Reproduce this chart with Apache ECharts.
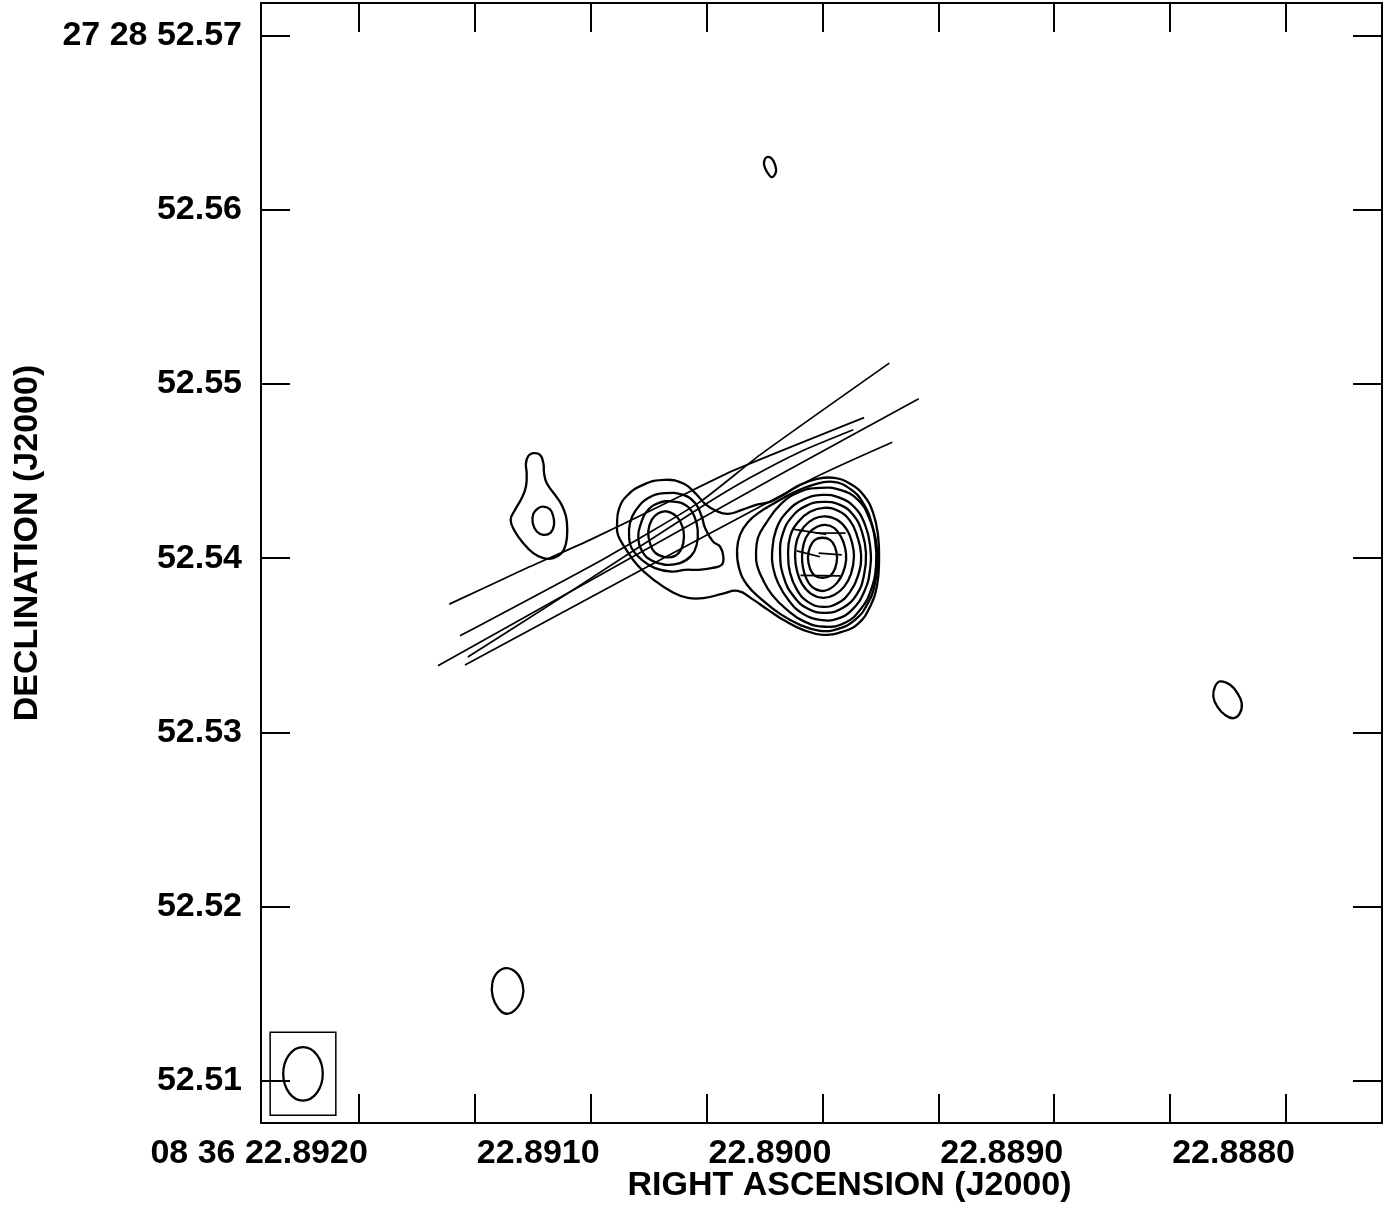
<!DOCTYPE html>
<html>
<head>
<meta charset="utf-8">
<title>Contour map</title>
<script src="https://cdn.jsdelivr.net/npm/echarts@6/dist/echarts.min.js"></script>
<style>
html, body { margin: 0; padding: 0; background: #fff; }
#main { width: 1389px; height: 1207px; }
</style>
</head>
<body>
<div id="main"></div>
<script>
// map centre (peak of the bright component): RA seconds, Dec arcsec
var RA0 = 22.8900;
var DEC0 = 52.5400;
var DEC_DEG = 27 + 28 / 60 + 52.54 / 3600;

// axes
var RA_RANGE = [22.887586, 22.892422];
var DEC_RANGE = [52.507566, 52.571877];
var RA_TICKS = [22.8920, 22.8915, 22.8910, 22.8905, 22.8900, 22.8895, 22.8890, 22.8885, 22.8880];
var RA_LABEL_VALUES = [22.8920, 22.8910, 22.8900, 22.8890, 22.8880];
var RA_LABELS = ['08 36 22.8920', '22.8910', '22.8900', '22.8890', '22.8880'];
var DEC_TICKS = [52.57, 52.56, 52.55, 52.54, 52.53, 52.52, 52.51];
var DEC_LABELS = ['27 28 52.57', '52.56', '52.55', '52.54', '52.53', '52.52', '52.51'];

// contours, offsets from the centre in mas [east, north]
var OUTER_C1 = [[11.79,1.91],[11.68,2.83],[11.22,3.58],[10.30,4.21],[9.04,4.50],[7.95,4.27],[7.26,3.69],[6.74,3.12],[6.11,2.72],[5.42,2.54],[4.62,2.77],[3.81,3.06],[3.01,3.23],[2.15,3.69],[1.29,4.21],[0.31,4.55],[-0.67,4.61],[-1.59,4.27],[-2.39,3.58],[-2.91,2.60],[-3.19,1.34],[-3.25,-0.10],[-3.14,-1.53],[-2.73,-2.80],[-2.04,-3.77],[-1.13,-4.23],[-0.03,-4.40],[1.11,-4.12],[2.15,-3.60],[3.12,-2.97],[4.04,-2.34],[4.85,-1.88],[5.76,-2.05],[6.74,-2.28],[7.72,-2.28],[8.63,-1.94],[9.61,-1.30],[10.59,-0.44],[11.33,0.59],[11.74,1.34]];
var LEFT_C2 = [[11.10,1.24],[11.05,2.01],[10.76,2.68],[10.00,3.45],[9.04,3.73],[7.99,3.63],[7.31,3.16],[6.93,2.39],[6.74,1.74],[6.28,0.95],[5.88,0.67],[5.69,0.09],[5.78,-0.38],[6.36,-0.57],[7.13,-0.67],[7.89,-0.67],[8.65,-0.77],[9.61,-0.57],[10.37,-0.10],[10.95,0.57]];
var LEFT_C3 = [[10.57,1.24],[10.41,2.01],[10.09,2.68],[9.42,3.16],[8.56,3.25],[7.79,3.00],[7.35,2.39],[7.16,1.63],[7.22,0.76],[7.54,0.13],[8.18,-0.29],[9.04,-0.38],[9.80,-0.14],[10.34,0.38]];
var LEFT_C4 = [[8.94,2.68],[8.37,2.39],[8.04,1.81],[7.95,1.24],[8.08,0.57],[8.46,0.13],[9.04,0.06],[9.61,0.32],[9.90,0.86],[10.00,1.53],[9.80,2.20],[9.42,2.58]];
var MAIN_C2 = [[4.90,0.48],[4.73,1.34],[4.27,2.08],[3.58,2.66],[2.72,3.18],[1.69,3.75],[0.54,4.21],[-0.61,4.38],[-1.59,3.98],[-2.33,3.18],[-2.85,1.91],[-3.14,0.30],[-3.02,-1.42],[-2.56,-2.68],[-1.87,-3.54],[-0.90,-4.06],[0.14,-4.17],[1.29,-3.83],[2.43,-3.20],[3.47,-2.39],[4.33,-1.53],[4.79,-0.56]];
var MAIN_C3 = [[3.81,0.30],[3.70,1.17],[3.30,1.91],[2.43,3.06],[1.29,3.81],[0.14,4.04],[-1.01,3.92],[-2.04,3.35],[-2.68,2.31],[-3.02,1.05],[-3.08,-0.38],[-2.79,-1.82],[-2.16,-2.97],[-1.30,-3.71],[-0.15,-3.94],[1.00,-3.66],[2.03,-2.97],[2.89,-2.11],[3.47,-1.13],[3.76,-0.38]];
var MAIN_C4 = [[2.89,0.30],[2.66,1.63],[2.03,2.66],[1.11,3.35],[0.02,3.63],[-1.01,3.46],[-1.87,2.89],[-2.45,1.91],[-2.73,0.76],[-2.73,-0.67],[-2.39,-1.94],[-1.70,-2.97],[-0.84,-3.49],[0.14,-3.54],[1.11,-3.20],[1.92,-2.45],[2.55,-1.42],[2.84,-0.50]];
var MAIN_C5 = [[2.43,0.30],[2.26,1.45],[1.75,2.37],[0.94,3.00],[-0.03,3.23],[-1.01,3.06],[-1.76,2.49],[-2.27,1.51],[-2.50,0.30],[-2.39,-0.96],[-1.99,-2.05],[-1.18,-2.85],[-0.15,-3.14],[0.83,-2.91],[1.63,-2.22],[2.21,-1.13]];
var MAIN_C6 = [[1.97,0.19],[1.86,1.22],[1.40,2.08],[0.71,2.66],[-0.09,2.89],[-0.90,2.72],[-1.59,2.14],[-1.99,1.28],[-2.22,0.19],[-2.04,-1.02],[-1.59,-1.94],[-0.90,-2.57],[-0.03,-2.80],[0.83,-2.51],[1.46,-1.82],[1.86,-0.84]];
var MAIN_C7 = [[1.57,0.13],[1.46,1.05],[1.06,1.80],[0.48,2.26],[-0.15,2.40],[-0.84,2.20],[-1.41,1.63],[-1.70,0.88],[-1.81,0.08],[-1.64,-0.90],[-1.24,-1.65],[-0.67,-2.11],[-0.03,-2.28],[0.65,-2.05],[1.17,-1.48],[1.46,-0.73]];
var MAIN_C8 = [[1.17,0.08],[1.06,0.88],[0.77,1.45],[0.31,1.80],[-0.15,1.91],[-0.67,1.74],[-1.07,1.22],[-1.30,0.59],[-1.36,-0.10],[-1.18,-0.84],[-0.84,-1.42],[-0.38,-1.79],[0.08,-1.88],[0.60,-1.65],[0.94,-1.13],[1.11,-0.56]];
var MAIN_C9 = [[0.83,0.02],[0.71,0.65],[0.43,1.05],[0.00,1.17],[-0.44,1.05],[-0.72,0.65],[-0.84,0.02],[-0.72,-0.61],[-0.44,-1.02],[0.00,-1.13],[0.43,-1.02],[0.71,-0.61]];
var DROP_OUTER = [[16.60,6.03],[16.21,5.93],[16.02,5.45],[15.98,4.88],[15.83,4.31],[15.35,3.63],[14.97,3.06],[14.72,2.39],[14.65,1.63],[14.72,0.86],[14.97,0.29],[15.45,0.00],[16.02,0.00],[16.60,0.29],[17.17,0.86],[17.65,1.53],[17.90,2.20],[17.65,2.77],[17.26,3.45],[17.02,4.11],[16.98,4.88],[17.02,5.45],[16.88,5.87]];
var DROP_INNER = [[16.02,2.96],[15.64,2.81],[15.45,2.39],[15.41,1.91],[15.60,1.47],[16.02,1.34],[16.40,1.53],[16.63,2.01],[16.60,2.54],[16.31,2.87]];
var TOP_BLOB = [[3.12,23.04],[2.89,22.92],[2.72,22.58],[2.66,22.24],[2.78,21.95],[2.95,21.89],[3.18,22.18],[3.35,22.58],[3.30,22.92]];
var RIGHT_BLOB = [[-22.83,-7.08],[-23.40,-7.27],[-23.82,-7.75],[-24.07,-8.32],[-23.97,-8.90],[-23.59,-9.19],[-23.11,-9.00],[-22.67,-8.52],[-22.44,-7.95],[-22.54,-7.37]];
var BOTTOM_BLOB = [[18.12,-23.54],[17.55,-23.83],[17.21,-24.50],[17.21,-25.17],[17.55,-25.84],[18.12,-26.16],[18.61,-25.84],[18.93,-25.17],[18.95,-24.40],[18.66,-23.79]];

// model tracks across the jet, same offsets
var TRACK_A = [[21.42,-2.64],[17.19,-0.67],[13.34,1.05],[8.18,3.55],[5.02,5.07],[-2.39,8.07]];
var TRACK_B = [[20.81,-4.46],[12.48,0.00],[7.03,3.23],[3.58,5.93],[-3.84,11.20]];
var TRACK_C = [[22.07,-6.18],[2.82,4.59],[-5.53,9.15]];
var TRACK_D = [[20.52,-6.13],[0.52,4.59],[-4.01,6.66]];
var TRACK_E = [[20.36,-5.68],[15.47,-2.57],[7.03,2.89],[4.16,4.61],[1.29,6.10],[-1.77,7.37]];
var PEAK_SEGMENTS = [
    [[1.72,1.67],[-0.21,1.37]],
    [[0.37,1.44],[-1.33,1.44]],
    [[1.48,0.42],[0.14,0.08]],
    [[0.22,0.29],[-1.11,0.19]],
    [[1.26,-0.99],[-1.01,-1.02]]
];

// restoring beam: position offset, minor (E-W) and major (N-S) widths in mas
var BEAM_POS = [29.82, -29.61];
var BEAM_WIDTHS = [2.27, 3.07];
var BEAM_BOX = [3.77, 4.77];

var FONT = 'Liberation Sans, Arial, Helvetica, sans-serif';
var FONT_SIZE = 34;
var MAS_PER_SEC = 15000 * Math.cos(DEC_DEG * Math.PI / 180);

function toSky(p) {
    return [RA0 + p[0] / MAS_PER_SEC, DEC0 + p[1] / 1000];
}

function lookup(values, labels, v) {
    for (var i = 0; i < values.length; i++) {
        if (Math.abs(values[i] - v) < 1e-6) {
            return labels[i];
        }
    }
    return '';
}

function pathSeries(pts, closed, width) {
    var data = pts.map(toSky);
    return {
        type: 'custom',
        silent: true,
        data: data,
        renderItem: function (params, api) {
            if (params.dataIndex !== 0) {
                return null;
            }
            var points = data.map(function (d) { return api.coord(d); });
            return {
                type: closed ? 'polygon' : 'polyline',
                shape: {points: points, smooth: closed ? 0.45 : 0.2},
                style: {fill: 'none', stroke: '#000', lineWidth: width}
            };
        }
    };
}

function beamSeries() {
    return {
        type: 'custom',
        silent: true,
        data: [toSky(BEAM_POS)],
        renderItem: function (params, api) {
            var c = api.coord([api.value(0), api.value(1)]);
            var e = api.coord(toSky([BEAM_POS[0] + BEAM_WIDTHS[0] / 2, BEAM_POS[1] + BEAM_WIDTHS[1] / 2]));
            var b = api.coord(toSky([BEAM_POS[0] + BEAM_BOX[0] / 2, BEAM_POS[1] + BEAM_BOX[1] / 2]));
            var rx = Math.abs(e[0] - c[0]), ry = Math.abs(e[1] - c[1]);
            var bx = Math.abs(b[0] - c[0]), by = Math.abs(b[1] - c[1]);
            return {
                type: 'group',
                children: [
                    {type: 'rect', shape: {x: c[0] - bx, y: c[1] - by, width: 2 * bx, height: 2 * by},
                        style: {fill: 'none', stroke: '#000', lineWidth: 1.5}},
                    {type: 'ellipse', shape: {cx: c[0], cy: c[1], rx: rx, ry: ry},
                        style: {fill: 'none', stroke: '#000', lineWidth: 2.3}}
                ]
            };
        }
    };
}

var chart = echarts.init(document.getElementById('main'));

var lineStyle = {color: '#000', width: 2};

function raAxis(pos) {
    var bottom = pos === 'bottom';
    return {
        type: 'value',
        position: pos,
        inverse: true,
        min: RA_RANGE[0],
        max: RA_RANGE[1],
        name: bottom ? 'RIGHT ASCENSION (J2000)' : '',
        nameLocation: 'middle',
        nameGap: 46,
        nameMoveOverlap: false,
        nameTextStyle: {color: '#000', fontSize: FONT_SIZE, fontWeight: 'bold', fontFamily: FONT, padding: [0, 0, 0, 56]},
        axisLine: {show: true, onZero: false, lineStyle: lineStyle},
        axisTick: {show: true, inside: true, length: 29, customValues: RA_TICKS, lineStyle: lineStyle},
        axisLabel: {
            show: bottom,
            customValues: RA_LABEL_VALUES,
            margin: 14,
            align: 'right',
            padding: [0, -9, 0, 0],
            color: '#000', fontSize: FONT_SIZE, fontWeight: 'bold', fontFamily: FONT,
            formatter: function (v) { return lookup(RA_LABEL_VALUES, RA_LABELS, v); }
        },
        splitLine: {show: false}
    };
}

function decAxis(pos) {
    var left = pos === 'left';
    return {
        type: 'value',
        position: pos,
        min: DEC_RANGE[0],
        max: DEC_RANGE[1],
        name: left ? 'DECLINATION (J2000)' : '',
        nameLocation: 'middle',
        nameGap: 216,
        nameMoveOverlap: false,
        nameTextStyle: {color: '#000', fontSize: FONT_SIZE, fontWeight: 'bold', fontFamily: FONT, padding: [0, 0, 0, 40]},
        axisLine: {show: true, onZero: false, lineStyle: lineStyle},
        axisTick: {show: true, inside: true, length: 29, customValues: DEC_TICKS, lineStyle: lineStyle},
        axisLabel: {
            show: left,
            customValues: DEC_TICKS,
            margin: 19,
            color: '#000', fontSize: FONT_SIZE, fontWeight: 'bold', fontFamily: FONT,
            formatter: function (v) { return lookup(DEC_TICKS, DEC_LABELS, v); }
        },
        splitLine: {show: false}
    };
}

var series = [];
[OUTER_C1, LEFT_C2, LEFT_C3, LEFT_C4, MAIN_C2, MAIN_C3, MAIN_C4, MAIN_C5, MAIN_C6, MAIN_C7, MAIN_C8, MAIN_C9,
    DROP_OUTER, DROP_INNER, TOP_BLOB, RIGHT_BLOB, BOTTOM_BLOB].forEach(function (c) {
    series.push(pathSeries(c, true, 2.3));
});
[TRACK_A, TRACK_B, TRACK_C, TRACK_D, TRACK_E].forEach(function (t) {
    series.push(pathSeries(t, false, 1.7));
});
PEAK_SEGMENTS.forEach(function (s) {
    series.push(pathSeries(s, false, 1.7));
});
series.push(beamSeries());

var option = {
    animation: false,
    backgroundColor: '#fff',
    grid: {left: 261, right: 7, top: 3, bottom: 84, outerBoundsMode: 'none'},
    xAxis: [raAxis('bottom'), raAxis('top')],
    yAxis: [decAxis('left'), decAxis('right')],
    series: series
};

chart.setOption(option);
</script>
</body>
</html>
